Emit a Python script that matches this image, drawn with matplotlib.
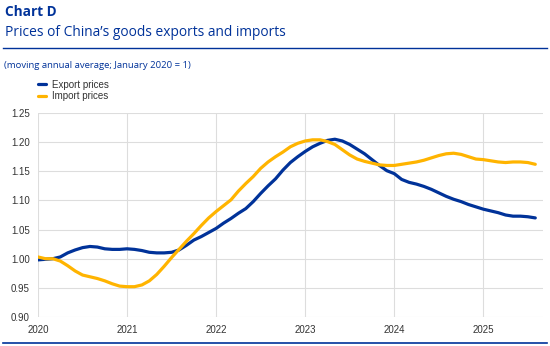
import matplotlib
matplotlib.use("Agg")
import matplotlib.pyplot as plt
import numpy as np

# monthly data, Jan 2020 - Aug 2025 (moving annual average, Jan 2020 = 1)
export_prices = [
    0.998, 0.999, 1.000, 1.003, 1.010, 1.015, 1.019, 1.021, 1.020, 1.017, 1.016, 1.016,
    1.017, 1.016, 1.014, 1.011, 1.010, 1.010, 1.011, 1.015, 1.023, 1.032, 1.038, 1.045,
    1.052, 1.061, 1.069, 1.078, 1.086, 1.098, 1.112, 1.125, 1.137, 1.152, 1.165, 1.175,
    1.184, 1.192, 1.198, 1.203, 1.205, 1.202, 1.196, 1.188, 1.180, 1.170, 1.160, 1.151,
    1.146, 1.136, 1.131, 1.128, 1.124, 1.119, 1.113, 1.107, 1.102, 1.098, 1.093, 1.089,
    1.085, 1.082, 1.079, 1.075, 1.073, 1.073, 1.072, 1.070,
]
import_prices = [
    1.003, 1.000, 1.000, 0.996, 0.988, 0.979, 0.972, 0.969, 0.966, 0.962, 0.957, 0.953,
    0.952, 0.952, 0.955, 0.962, 0.973, 0.987, 1.002, 1.016, 1.030, 1.043, 1.057, 1.070,
    1.081, 1.091, 1.101, 1.116, 1.129, 1.141, 1.155, 1.166, 1.175, 1.183, 1.192, 1.198,
    1.202, 1.204, 1.204, 1.201, 1.196, 1.187, 1.178, 1.171, 1.167, 1.164, 1.161, 1.160,
    1.160, 1.162, 1.164, 1.166, 1.169, 1.173, 1.177, 1.180, 1.181, 1.179, 1.175, 1.171,
    1.170, 1.168, 1.166, 1.165, 1.166, 1.166, 1.165, 1.162,
]
years = [2020, 2021, 2022, 2023, 2024, 2025]
yticks = [0.90, 0.95, 1.00, 1.05, 1.10, 1.15, 1.20, 1.25]

t = 2020 + np.arange(len(export_prices)) / 12

blue = "#003299"
yellow = "#FFB400"
txt = "#333333"

plt.rcParams['font.family'] = ['Liberation Sans', 'DejaVu Sans']

fig = plt.figure(figsize=(5.5, 3.46), dpi=100)
ax = fig.add_axes([38 / 550, 29 / 346, 505 / 550, 204 / 346])

ax.plot(t, export_prices, color=blue, lw=2.3, label='Export prices', solid_capstyle='round')
ax.plot(t, import_prices, color=yellow, lw=2.3, label='Import prices', solid_capstyle='round')

ax.set_xlim(2020, 2025.67)
ax.set_ylim(0.90, 1.25)
ax.set_xticks(years)
ax.set_xticklabels([str(y) for y in years])
ax.set_yticks(yticks)
ax.set_yticklabels([f"{v:.2f}" for v in yticks])
ax.tick_params(length=0, labelsize=7, colors=txt, pad=6)
ax.grid(True, color="#dddddd", lw=0.8)
ax.set_axisbelow(True)
for s in ax.spines.values():
    s.set_visible(False)

leg = ax.legend(loc='upper left', bbox_to_anchor=(29 / 550, 1 - 71 / 346),
                bbox_transform=fig.transFigure, frameon=False, fontsize=7,
                handlelength=0.8, handletextpad=0.7, labelspacing=0.15)
for txtobj in leg.get_texts():
    txtobj.set_color(txt)

# header
fig.text(5 / 550, 1 - 12 / 346, "Chart D", fontsize=9.8, fontweight='bold', color=blue,
         family='Open Sans', va='center', ha='left')
fig.text(5 / 550, 1 - 32 / 346, "Prices of China’s goods exports and imports", fontsize=9.9,
         color=blue, family='Open Sans', va='center', ha='left')
fig.add_artist(plt.Line2D([3 / 550, 547 / 550], [1 - 48 / 346, 1 - 48 / 346],
                          color=blue, lw=1, transform=fig.transFigure))
fig.text(4 / 550, 1 - 65 / 346, "(moving annual average; January 2020 = 1)", fontsize=6.8,
         color=blue, family='Open Sans', va='center', ha='left')
fig.add_artist(plt.Line2D([3 / 550, 547 / 550], [1 - 343 / 346, 1 - 343 / 346],
                          color=blue, lw=1.2, transform=fig.transFigure))

fig.savefig("out.png", dpi=100)
